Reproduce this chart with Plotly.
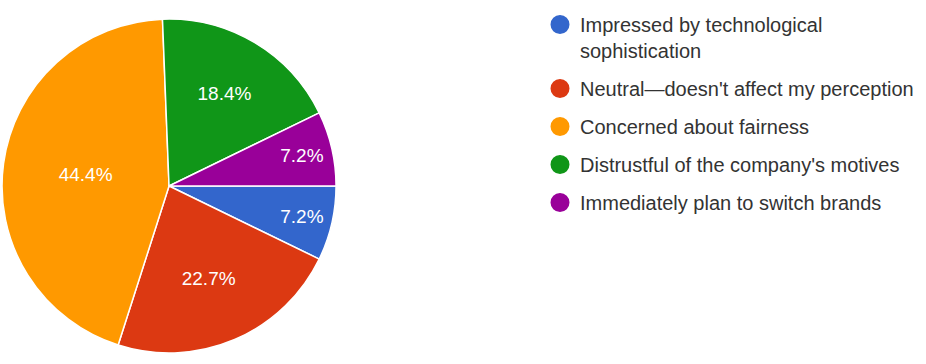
import plotly.graph_objects as go

categories = [
    "Impressed by technological sophistication",
    "Neutral—doesn't affect my perception",
    "Concerned about fairness",
    "Distrustful of the company's motives",
    "Immediately plan to switch brands",
]
legend_labels = [
    "Impressed by technological<br>sophistication",
    "Neutral—doesn't affect my perception",
    "Concerned about fairness",
    "Distrustful of the company's motives",
    "Immediately plan to switch brands",
]
percentages = [7.2, 22.7, 44.4, 18.4, 7.2]
colors = ["#3366CC", "#DC3912", "#FF9900", "#109618", "#990099"]

FONT = "Arial, 'Liberation Sans', sans-serif"

fig = go.Figure()
fig.add_trace(go.Pie(
    labels=categories,
    values=percentages,
    sort=False,
    direction="clockwise",
    rotation=90,
    marker=dict(colors=colors, line=dict(color="white", width=1.5)),
    texttemplate="%{percent:.1%}",
    textposition="inside",
    insidetextorientation="horizontal",
    textfont=dict(family=FONT, size=19, color="white"),
    hoverinfo="label+percent",
    showlegend=False,
    domain=dict(x=[0.0022, 0.3629], y=[0.0302, 0.9478]),
))

for i, (lab, col) in enumerate(zip(legend_labels, colors)):
    fig.add_trace(go.Scatter(
        x=[None], y=[None], mode="markers", name=lab,
        legendgroup=f"g{i}",
        marker=dict(symbol="circle", size=16, color=col, line=dict(color=col, width=3)),
    ))

fig.update_layout(
    width=926, height=364,
    margin=dict(l=0, r=0, t=0, b=0),
    paper_bgcolor="white", plot_bgcolor="white",
    font=dict(family=FONT),
    xaxis=dict(visible=False), yaxis=dict(visible=False),
    legend=dict(
        x=540 / 926, xanchor="left", y=1 - 5 / 364, yanchor="top",
        font=dict(family=FONT, size=20, color="#333333"),
        traceorder="grouped", tracegroupgap=9, valign="top",
        bgcolor="rgba(0,0,0,0)",
    ),
)

fig.write_html("out.html")
